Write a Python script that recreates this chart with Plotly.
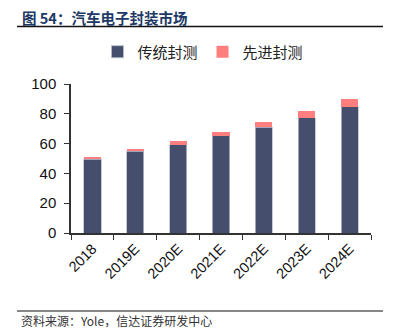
import plotly.graph_objects as go

years = ["2018", "2019E", "2020E", "2021E", "2022E", "2023E", "2024E"]
traditional = [49.5, 54.8, 59.3, 65.2, 71.0, 77.5, 84.9]
advanced = [1.7, 1.6, 2.5, 2.9, 3.6, 4.5, 5.2]

title_text = "图 54：汽车电子封装市场"
source_text = "资料来源：Yole，信达证券研发中心"

W, H = 393, 329
ml, mr, mt, mb = 71, 22, 84, 96

fig = go.Figure()
fig.add_trace(go.Bar(x=years, y=traditional, name="传统封测",
                     marker=dict(color="#454E6C", line=dict(color="#B9BCC8", width=0.8)),
                     width=0.4))
fig.add_trace(go.Bar(x=years, y=advanced, name="先进封测",
                     marker=dict(color="#FF7F7F", line=dict(width=0)),
                     width=0.4))

font_cjk = "Noto Sans CJK SC"
fig.update_layout(
    width=W, height=H, barmode="stack",
    margin=dict(l=ml, r=mr, t=mt, b=mb, pad=0),
    paper_bgcolor="white", plot_bgcolor="white",
    showlegend=True,
    legend=dict(orientation="h", x=0.44, xanchor="center", y=1.215, yanchor="middle",
                font=dict(family=font_cjk, size=15, color="#222"),
                itemwidth=30, traceorder="normal", tracegroupgap=0),
    xaxis=dict(type="category", range=[-0.5, 6.5], showline=True, linecolor="#333",
               linewidth=1.5, ticks="outside", tickson="boundaries", ticklen=5,
               tickcolor="#333", tickangle=-45,
               tickfont=dict(family="Liberation Sans, Arial", size=14.5, color="#111")),
    yaxis=dict(range=[0, 100], dtick=20, showline=True, linecolor="#333", linewidth=1.5,
               ticks="outside", ticklen=5, tickcolor="#333", showgrid=False, zeroline=False,
               ticklabelstandoff=5,
               tickfont=dict(family="Liberation Sans, Arial", size=15, color="#111")),
)

def px_x(x):
    return (x - ml) / (W - ml - mr)

def px_y(y):
    return (H - mb - y) / (H - mt - mb)

fig.add_annotation(text="<b>" + title_text + "</b>", xref="paper", yref="paper",
                   x=px_x(20), y=px_y(17), xanchor="left", yanchor="middle",
                   showarrow=False, font=dict(family=font_cjk, size=14.5, color="#203864"))
fig.add_annotation(text=source_text, xref="paper", yref="paper",
                   x=px_x(19), y=px_y(320), xanchor="left", yanchor="middle",
                   showarrow=False, font=dict(family=font_cjk, size=12, color="#333"))
fig.add_shape(type="line", xref="paper", yref="paper",
              x0=px_x(17), x1=px_x(383), y0=px_y(26.5), y1=px_y(26.5),
              line=dict(color="#111", width=1.5))
fig.add_shape(type="line", xref="paper", yref="paper",
              x0=px_x(17), x1=px_x(383), y0=px_y(311), y1=px_y(311),
              line=dict(color="#111", width=1))

fig.write_html("out.html")
